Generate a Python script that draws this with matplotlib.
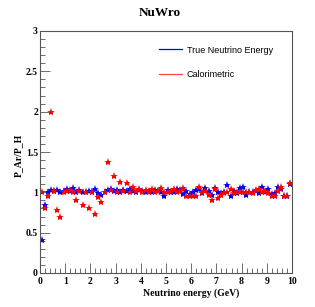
import numpy as np
import matplotlib
matplotlib.use('Agg')
import matplotlib.pyplot as plt
from matplotlib.lines import Line2D
from matplotlib.ticker import MultipleLocator, FuncFormatter

# bin centres, 80 bins over 0-10 GeV
energy = np.arange(80) * 0.125 + 0.0625

ratio_true = [
    0.41, 0.84, 1.00, 1.03, 1.02, 1.03, 1.01, 1.02, 1.04, 1.02,
    1.05, 1.01, 1.03, 1.01, 1.00, 1.02, 1.00, 1.04, 0.99, 0.97,
    1.00, 1.03, 1.04, 1.02, 1.03, 1.01, 1.03, 1.02, 1.04, 1.02,
    1.01, 1.03, 1.02, 1.00, 1.02, 1.01, 1.03, 1.02, 1.00, 0.96,
    1.03, 1.01, 1.00, 1.04, 1.03, 0.98, 1.02, 0.98, 1.00, 1.03,
    1.04, 0.99, 1.05, 1.02, 0.97, 1.05, 1.00, 0.99, 1.01, 1.09,
    0.95, 1.02, 0.99, 1.05, 1.06, 0.97, 1.01, 1.00, 1.02, 0.99,
    1.07, 1.01, 1.04, 0.98, 0.99, 1.06, 1.04, 0.96, 0.95, 1.10,
]
ratio_calo = [
    1.00, 0.80, 0.95, 2.00, 1.02, 0.78, 0.70, 1.01, 1.02, 1.03,
    1.00, 0.90, 1.02, 0.84, 1.01, 0.80, 1.01, 0.73, 0.94, 0.88,
    1.01, 1.38, 1.03, 1.20, 1.01, 1.13, 1.02, 1.11, 1.01, 1.06,
    1.02, 1.04, 1.01, 1.03, 1.00, 1.04, 1.01, 1.02, 1.05, 1.01,
    1.00, 1.02, 1.04, 1.01, 1.02, 1.05, 0.95, 0.96, 0.95, 0.96,
    1.07, 1.01, 1.02, 0.97, 0.91, 1.04, 0.93, 0.97, 0.99, 1.01,
    1.04, 0.99, 1.01, 1.00, 1.01, 1.00, 1.01, 0.99, 1.03, 1.04,
    1.01, 1.02, 0.99, 0.96, 0.96, 1.02, 1.06, 0.96, 0.96, 1.11,
]

serif = 'Liberation Serif'

fig = plt.figure(figsize=(3.15, 3.07), dpi=100)
ax = fig.add_axes([40 / 315, 34 / 307, 252 / 315, 242 / 307])

ax.plot(energy, ratio_true, ls='none', marker='*', ms=6, color='#0000ff', mew=0)
ax.plot(energy, ratio_calo, ls='none', marker='*', ms=6, color='#ff0000', mew=0)

ax.set_xlim(0, 10)
ax.set_ylim(0, 3)
ax.xaxis.set_major_locator(MultipleLocator(1))
ax.xaxis.set_minor_locator(MultipleLocator(0.2))
ax.yaxis.set_major_locator(MultipleLocator(0.5))
ax.yaxis.set_minor_locator(MultipleLocator(0.1))
fmt = FuncFormatter(lambda v, _: f'{v:g}')
ax.xaxis.set_major_formatter(fmt)
ax.yaxis.set_major_formatter(fmt)
ax.tick_params(which='both', direction='in', top=False, right=False, width=0.6, color='#555555')
ax.tick_params(which='major', length=7, labelsize=7, pad=1.5)
ax.tick_params(axis='x', which='major', pad=3)
ax.tick_params(which='minor', length=3.5)
for lab in ax.get_xticklabels() + ax.get_yticklabels():
    lab.set_family(serif)
    lab.set_fontweight('bold')
for s in ax.spines.values():
    s.set_color('#555555')
    s.set_linewidth(0.8)

fig.text(160 / 315, 1 - 13 / 307, 'NuWro', ha='center', va='center',
         family=serif, fontweight='bold', fontsize=9.5)
fig.text(191 / 315, 1 - 293 / 307, 'Neutrino energy (GeV)', ha='center', va='center',
         family=serif, fontweight='bold', fontsize=7)
fig.text(18 / 315, 1 - 155 / 307, 'P_Ar/P_H', ha='center', va='center', rotation=90,
         family=serif, fontweight='bold', fontsize=7)

handles = [Line2D([], [], color='#0000ff', lw=0.9), Line2D([], [], color='#ff4444', lw=0.9)]
ax.legend(handles, ['True Neutrino Energy', 'Calorimetric'],
          bbox_to_anchor=(0.472, 0.94), loc='upper left', frameon=False,
          prop={'family': 'Liberation Sans', 'size': 6.5},
          handlelength=2.55, handletextpad=0.55, labelspacing=1.75,
          borderpad=0, borderaxespad=0)

fig.savefig('out.png', dpi=100)
